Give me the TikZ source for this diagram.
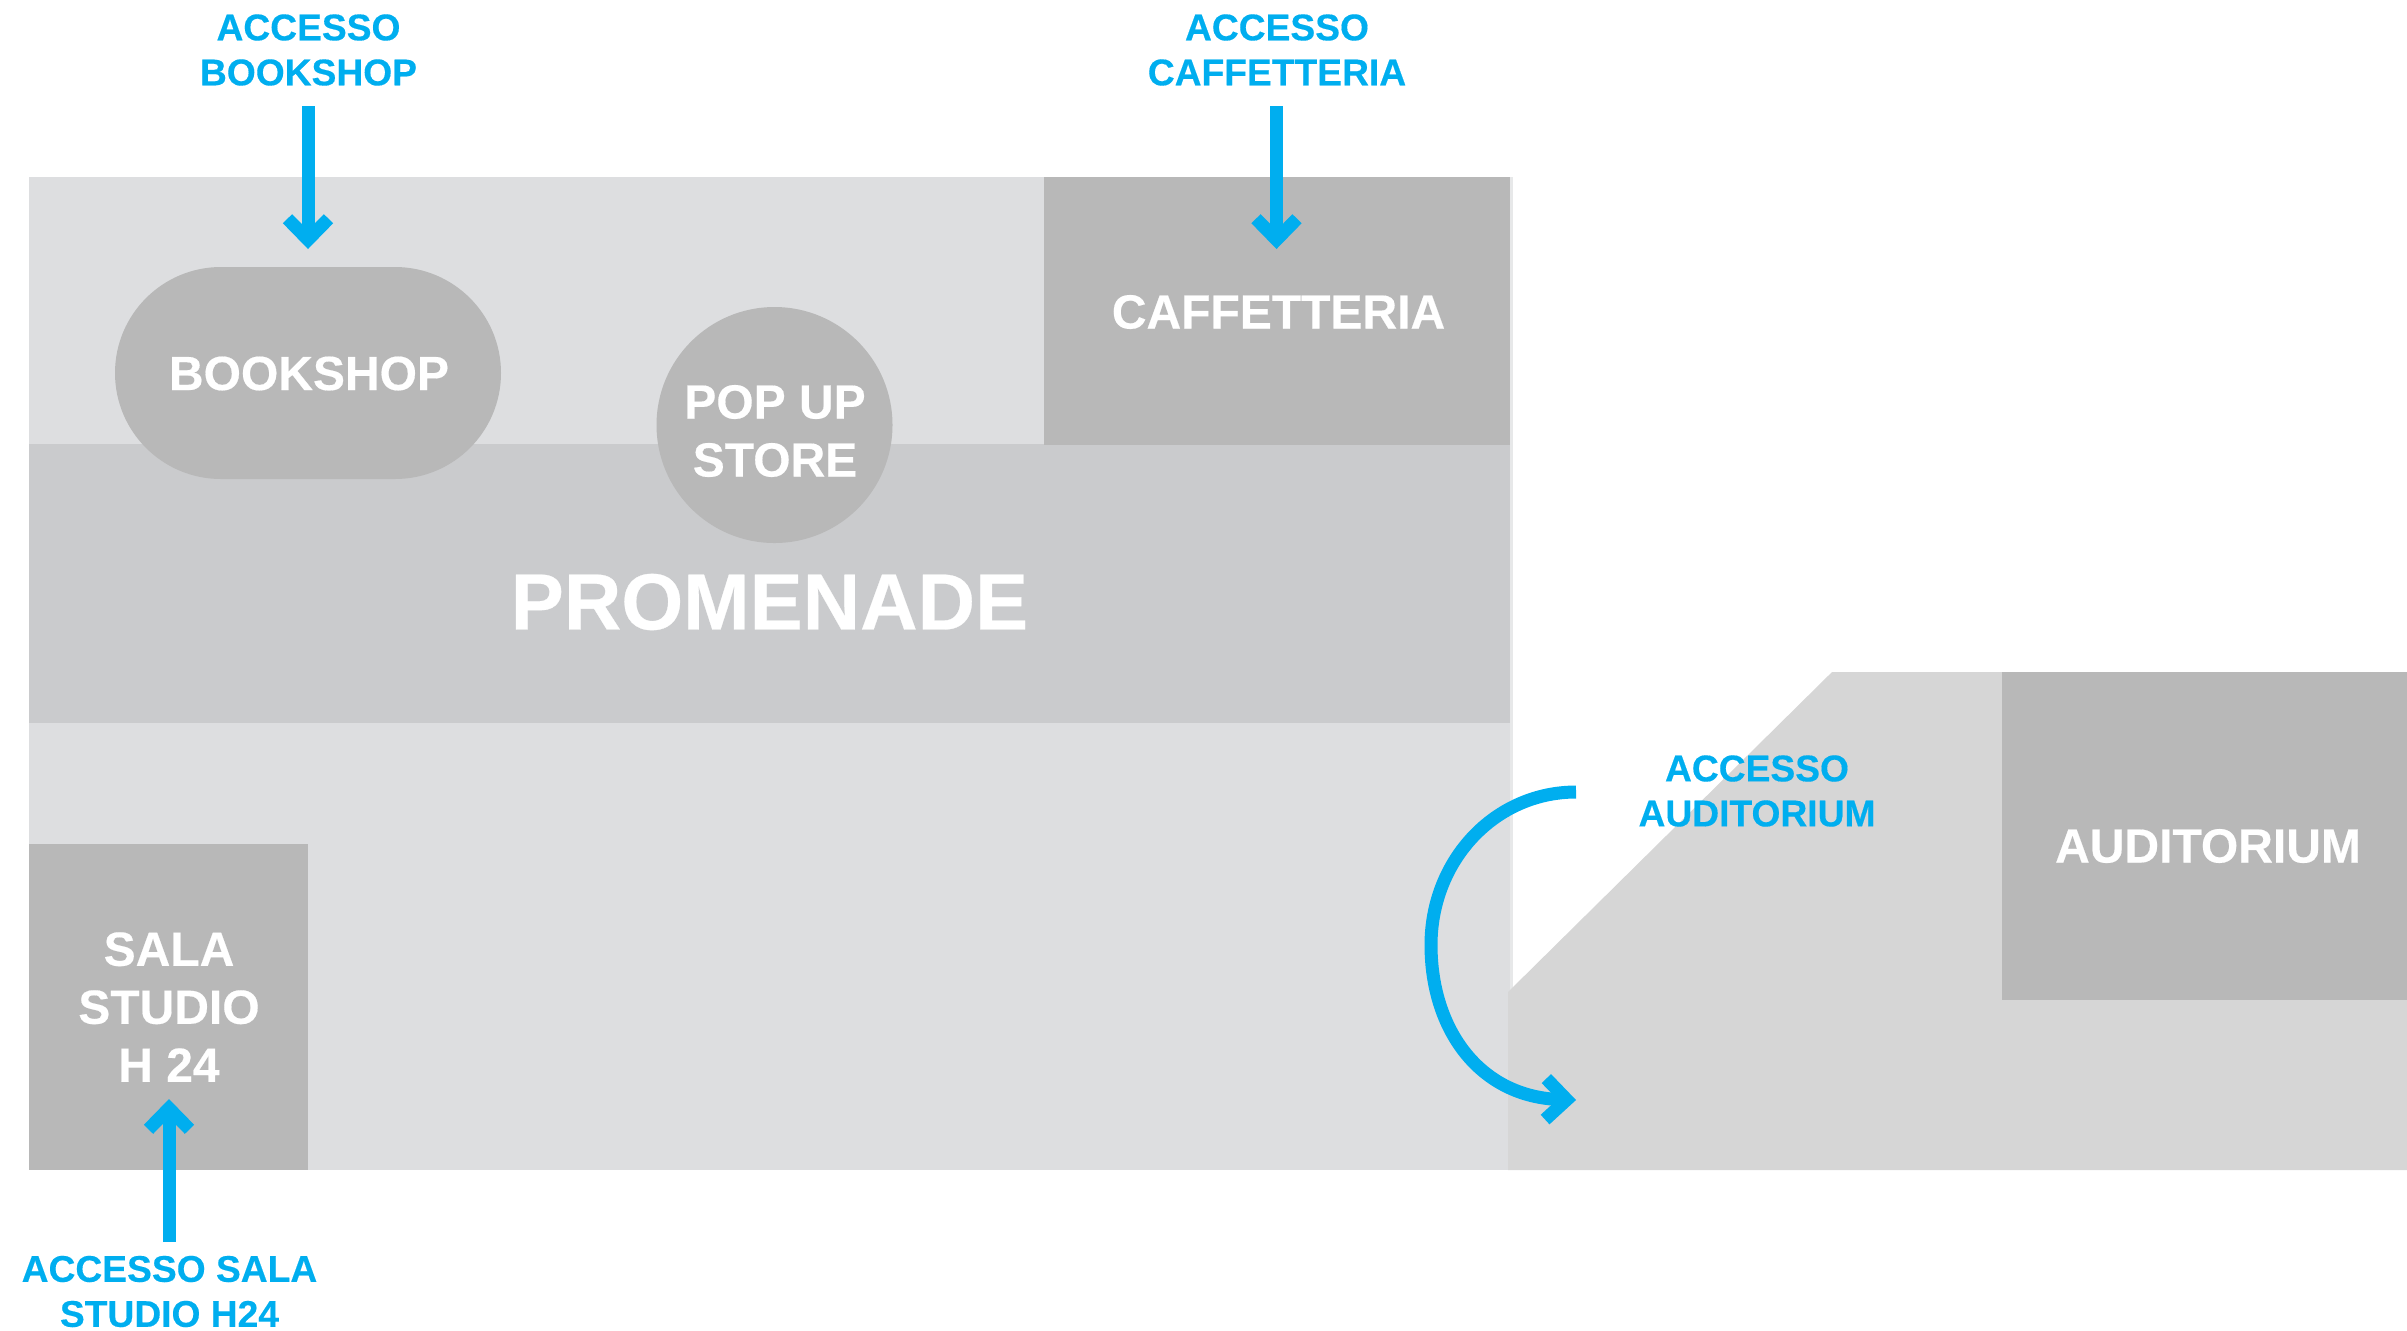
\documentclass[tikz,border=0pt]{standalone}
\usepackage{fontspec}
\setmainfont[BoldFeatures={FakeBold=0.35}]{Liberation Sans}
\usetikzlibrary{arrows.meta}
\definecolor{lightarea}{HTML}{DDDEE0}
\definecolor{promen}{HTML}{CACBCD}
\definecolor{room}{HTML}{B8B8B8}
\definecolor{audarea}{HTML}{D6D6D6}
\definecolor{acc}{HTML}{00AEEF}
\tikzset{
  x=0.5pt,y=-0.5pt,
  flat/.style={fill=#1,draw=none},
  roomlabel/.style={text=white,font=\fontsize{24}{29}\selectfont\bfseries,align=center,inner sep=0pt},
  biglabel/.style={text=white,font=\fontsize{39.8}{46}\selectfont\bfseries,align=center,inner sep=0pt},
  acclabel/.style={text=acc,font=\fontsize{18.6}{22.5}\selectfont\bfseries,align=center,inner sep=0pt},
  accarrow/.style={draw=acc,line width=6.5pt,-{Straight Barb[length=10.5pt,width=20.5pt,line width=6.5pt]}},
}
\begin{document}
\begin{tikzpicture}
\useasboundingbox (0,0) rectangle (2407,1330);
% areas
\fill[lightarea] (29,177) rectangle (1510,1170);
\fill[lightarea!70!white] (1510,177) rectangle (1513,992);
\fill[audarea] (1508,992) -- (1832,672) -- (2407,672) -- (2407,1170) -- (1508,1170) -- cycle;
\node[flat=promen,minimum width=740.5pt,minimum height=139.5pt,inner sep=0pt,anchor=north west] (promenade) at (29,444) {};
\node[flat=room,minimum width=233pt,minimum height=134pt,inner sep=0pt,anchor=north west] (caffe) at (1044,177) {};
\node[flat=room,minimum width=139.5pt,minimum height=163pt,inner sep=0pt,anchor=north west] (sala) at (29,844) {};
\node[flat=room,minimum width=202.5pt,minimum height=164pt,inner sep=0pt,anchor=north west] (audit) at (2002,672) {};
\node[flat=room,rounded corners=53pt,minimum width=193pt,minimum height=106pt,inner sep=0pt] (bookbox) at (308,373) {};
\node[circle,flat=room,minimum size=118pt,inner sep=0pt] (popup) at (774.5,425) {};
% labels
\node[roomlabel] (bookshop) at (309,373.5) {BOOKSHOP};
\node[roomlabel] (popuplbl) at (775,431) {POP UP\\STORE};
\node[roomlabel] (caffelbl) at (1278.5,312) {CAFFETTERIA};
\node[roomlabel] (saluelbl) at (169,1007) {SALA\\STUDIO\\H 24};
\node[roomlabel] (auditlbl) at (2208,846) {AUDITORIUM};
\node[biglabel] (promlbl) at (769.5,602) {PROMENADE};
\node[acclabel] (accbook) at (308.5,50) {ACCESSO\\BOOKSHOP};
\node[acclabel] (acccaffe) at (1277,50) {ACCESSO\\CAFFETTERIA};
\node[acclabel] (accaud) at (1757,791) {ACCESSO\\AUDITORIUM};
\node[acclabel] (accsala) at (169.5,1291.5) {ACCESSO SALA\\STUDIO H24};
% connector ends
\coordinate (b0) at (308,106); \coordinate (b1) at (308,249);
\coordinate (c0) at (1276.5,106); \coordinate (c1) at (1276.5,249);
\coordinate (s0) at (169,1242); \coordinate (s1) at (169,1099);
\coordinate (a0) at (1576,792); \coordinate (am) at (1431,945); \coordinate (a1) at (1576,1100);
\draw[accarrow] (b0) -- (b1);
\draw[accarrow] (c0) -- (c1);
\draw[accarrow] (s0) -- (s1);
\draw[accarrow] (a0) .. controls (1495,792) and (1431,860) .. (am) .. controls (1431,1030) and (1480,1097) .. (a1);
\end{tikzpicture}
\end{document}
